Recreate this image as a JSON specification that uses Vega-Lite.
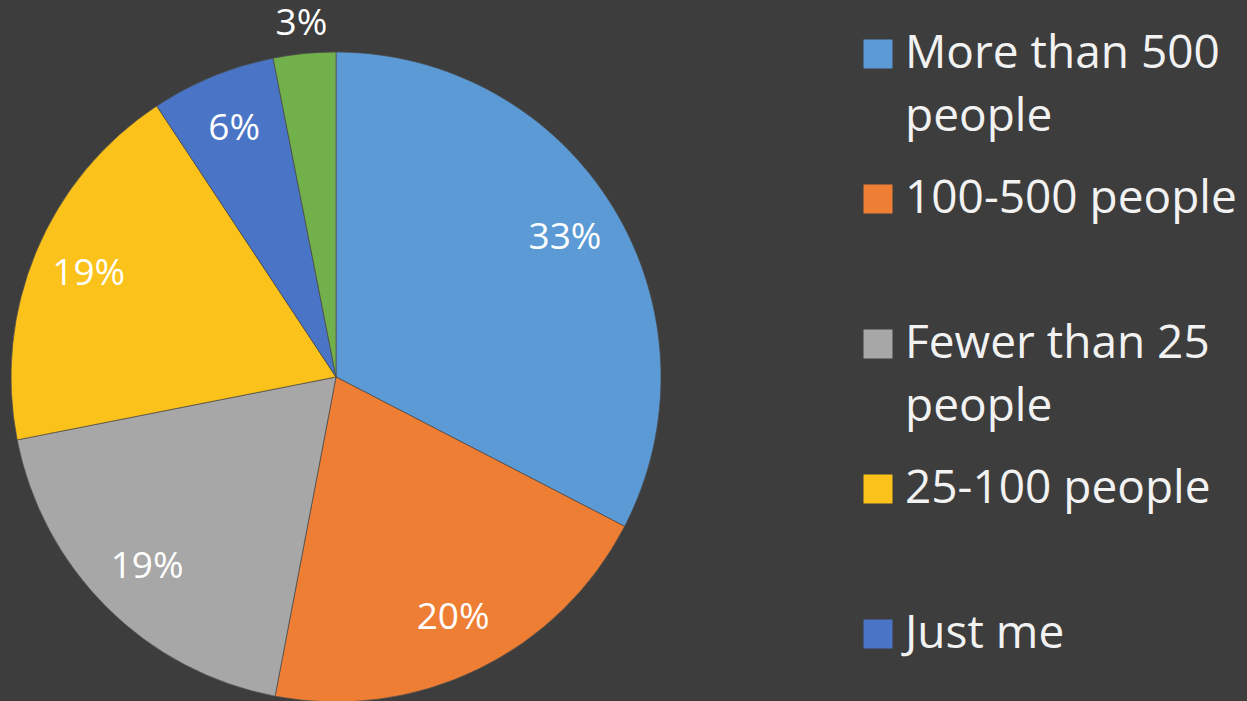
{
  "$schema": "https://vega.github.io/schema/vega-lite/v6.json",
  "width": 650,
  "height": 650,
  "autosize": {"type": "none"},
  "padding": {"left": 11, "top": 52, "right": 586, "bottom": 0},
  "background": "#3d3d3d",
  "config": {
    "view": {"stroke": null},
    "style": {"guide-label": {"lineHeight": 63}}
  },
  "data": {
    "values": [
      {"idx": 1, "group": "More than 500 people", "share": 0.326},
      {"idx": 2, "group": "100-500 people", "share": 0.204},
      {"idx": 3, "group": "Fewer than 25 people", "share": 0.189},
      {"idx": 4, "group": "25-100 people", "share": 0.188},
      {"idx": 5, "group": "Just me", "share": 0.062},
      {"idx": 6, "group": "Other", "share": 0.031}
    ]
  },
  "encoding": {
    "theta": {"field": "share", "type": "quantitative", "stack": true},
    "order": {"field": "idx", "type": "quantitative"},
    "color": {
      "field": "group",
      "type": "nominal",
      "scale": {
        "domain": ["More than 500 people", "100-500 people", "Fewer than 25 people", "25-100 people", "Just me", "Other"],
        "range": ["#5b9ad5", "#ee7e34", "#a7a7a7", "#fbc21c", "#4a74c5", "#72b04b"]
      },
      "legend": {
        "orient": "none",
        "legendX": 844,
        "legendY": -21,
        "title": null,
        "values": ["More than 500 people", "100-500 people", "Fewer than 25 people", "25-100 people", "Just me"],
        "labelFont": "Open Sans",
        "labelFontSize": 46,
        "labelColor": "#f2f2f2",
        "labelLimit": 600,
        "labelOffset": 4,
        "labelBaseline": "middle",
        "labelExpr": "datum.label == 'More than 500 people' ? ['More than 500', 'people'] : datum.label == 'Fewer than 25 people' ? ['Fewer than 25', 'people'] : datum.label",
        "symbolType": "square",
        "symbolSize": 841,
        "symbolStrokeWidth": 0,
        "symbolOpacity": 1,
        "gridAlign": "all",
        "rowPadding": 36,
        "encode": {"labels": {"update": {"lineHeight": {"value": 63}}}}
      }
    }
  },
  "layer": [
    {"mark": {"type": "arc", "outerRadius": 325, "stroke": "#4a4a4a", "strokeWidth": 0.7}},
    {
      "mark": {"type": "text", "font": "Open Sans", "fontSize": 37, "radius": {"expr": "datum.share < 0.05 ? 355 : 268"}},
      "encoding": {
        "text": {"field": "share", "type": "quantitative", "format": ".0%"},
        "color": {"value": "#ffffff"}
      }
    }
  ]
}
